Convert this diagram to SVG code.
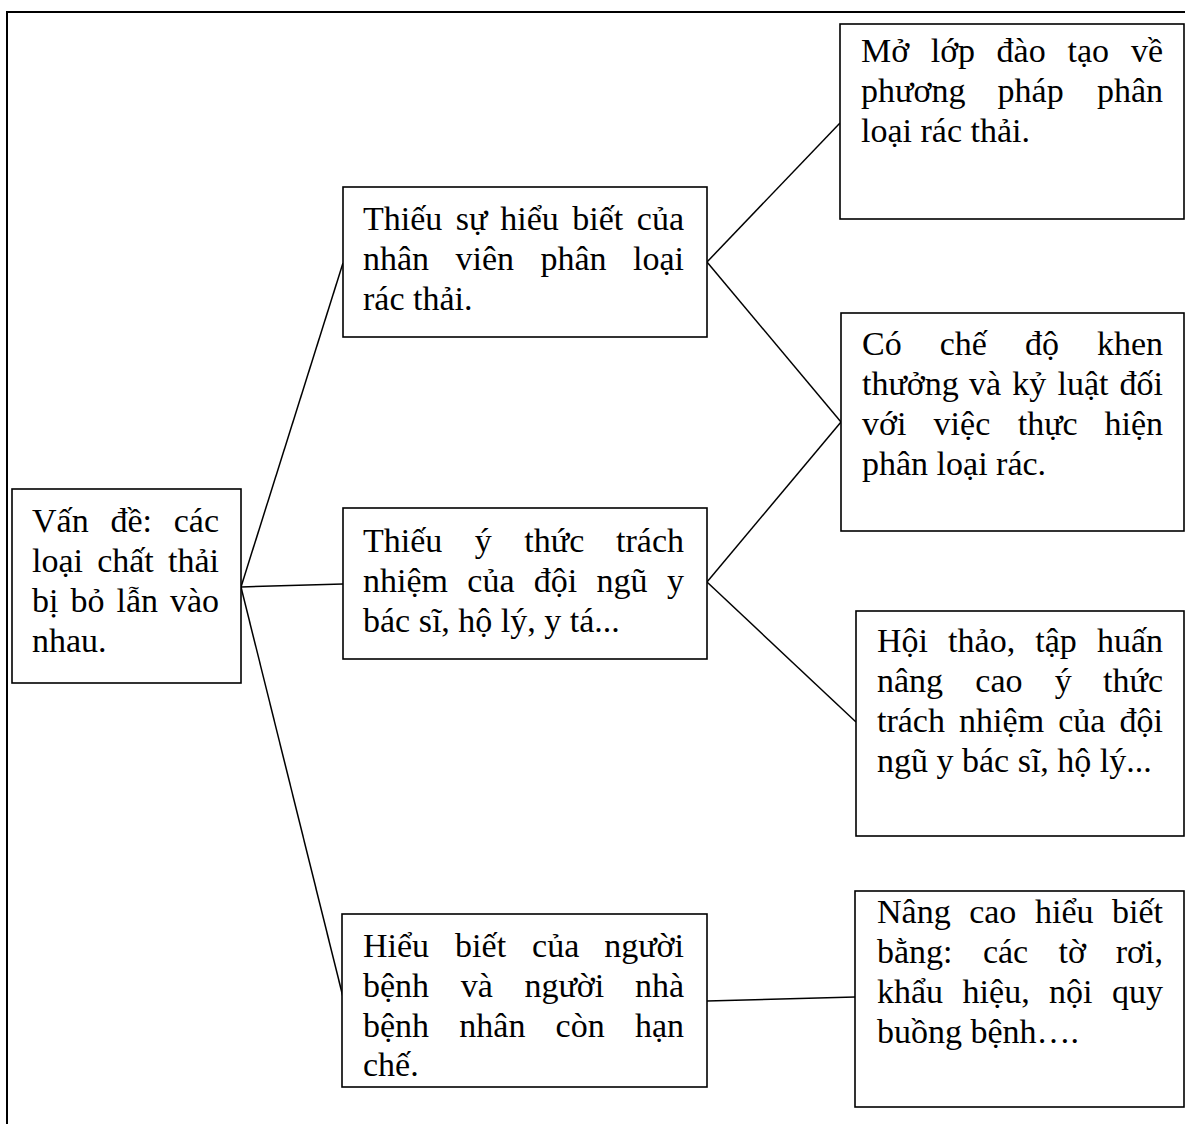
<svg xmlns="http://www.w3.org/2000/svg" width="1185" height="1124" viewBox="0 0 1185 1124">
  <style>
    .box { fill: #ffffff; stroke: #000000; stroke-width: 1.6; }
    .frame { fill: none; stroke: #000000; stroke-width: 2; }
    .link { fill: none; stroke: #000000; stroke-width: 1.5; }
    text { font-family: "Liberation Serif", "Times New Roman", serif; font-size: 34px; fill: #000000; }
    .r { text-anchor: end; }
  </style>

  <rect width="1185" height="1124" fill="#ffffff"/>

  <!-- page frame (top and left edges) -->
  <path class="frame" d="M7,1124 V12 H1185"/>

  <!-- connectors -->
  <g id="connectors">
    <line class="link" x1="241" y1="587" x2="343" y2="263"/>
    <line class="link" x1="241" y1="587" x2="343" y2="584"/>
    <line class="link" x1="241" y1="587" x2="343" y2="997"/>
    <line class="link" x1="707" y1="262" x2="840" y2="123"/>
    <line class="link" x1="707" y1="262" x2="841" y2="422"/>
    <line class="link" x1="707" y1="582" x2="841" y2="422"/>
    <line class="link" x1="707" y1="582" x2="856" y2="722"/>
    <line class="link" x1="707" y1="1001" x2="855" y2="997"/>
  </g>

  <!-- problem -->
  <g id="node-problem">
    <rect class="box" x="12" y="489" width="229" height="194"/>
    <text y="532"><tspan x="32">Vấn</tspan><tspan x="110.4">đề:</tspan><tspan class="r" x="219">các</tspan></text>
    <text y="572"><tspan x="32">loại</tspan><tspan x="97.2">chất</tspan><tspan class="r" x="219">thải</tspan></text>
    <text y="612"><tspan x="32">bị</tspan><tspan x="70.5">bỏ</tspan><tspan x="116.5">lẫn</tspan><tspan class="r" x="219">vào</tspan></text>
    <text x="32" y="652">nhau.</text>
  </g>

  <!-- cause 1 -->
  <g id="node-cause-staff">
    <rect class="box" x="343" y="187" width="364" height="150"/>
    <text y="230"><tspan x="363">Thiếu</tspan><tspan x="455.8">sự</tspan><tspan x="500.2">hiểu</tspan><tspan x="572.2">biết</tspan><tspan class="r" x="684">của</tspan></text>
    <text y="270"><tspan x="363">nhân</tspan><tspan x="455.5">viên</tspan><tspan x="540.4">phân</tspan><tspan class="r" x="684">loại</tspan></text>
    <text x="363" y="310">rác thải.</text>
  </g>

  <!-- cause 2 -->
  <g id="node-cause-responsibility">
    <rect class="box" x="343" y="508" width="364" height="151"/>
    <text y="552"><tspan x="363">Thiếu</tspan><tspan x="474.8">ý</tspan><tspan x="524.3">thức</tspan><tspan class="r" x="684">trách</tspan></text>
    <text y="592"><tspan x="363">nhiệm</tspan><tspan x="467.3">của</tspan><tspan x="533.8">đội</tspan><tspan x="596.6">ngũ</tspan><tspan class="r" x="684">y</tspan></text>
    <text x="363" y="632">bác sĩ, hộ lý, y tá...</text>
  </g>

  <!-- cause 3 -->
  <g id="node-cause-patients">
    <rect class="box" x="342" y="914" width="365" height="173"/>
    <text y="957"><tspan x="363">Hiểu</tspan><tspan x="455.1">biết</tspan><tspan x="532.1">của</tspan><tspan class="r" x="684">người</tspan></text>
    <text y="997"><tspan x="363">bệnh</tspan><tspan x="460.7">và</tspan><tspan x="524.4">người</tspan><tspan class="r" x="684">nhà</tspan></text>
    <text y="1037"><tspan x="363">bệnh</tspan><tspan x="459.3">nhân</tspan><tspan x="555.6">còn</tspan><tspan class="r" x="684">hạn</tspan></text>
    <text x="363" y="1076">chế.</text>
  </g>

  <!-- solution: training -->
  <g id="node-training">
    <rect class="box" x="840" y="24" width="344" height="195"/>
    <text y="62"><tspan x="861">Mở</tspan><tspan x="930.7">lớp</tspan><tspan x="996.6">đào</tspan><tspan x="1067.5">tạo</tspan><tspan class="r" x="1163">về</tspan></text>
    <text y="102"><tspan x="861">phương</tspan><tspan x="997.6">pháp</tspan><tspan class="r" x="1163">phân</tspan></text>
    <text x="861" y="142">loại rác thải.</text>
  </g>

  <!-- solution: reward and discipline -->
  <g id="node-reward">
    <rect class="box" x="841" y="313" width="343" height="218"/>
    <text y="355"><tspan x="862">Có</tspan><tspan x="939.7">chế</tspan><tspan x="1024.9">độ</tspan><tspan class="r" x="1163">khen</tspan></text>
    <text y="395"><tspan x="862">thưởng</tspan><tspan x="969">và</tspan><tspan x="1012.3">kỷ</tspan><tspan x="1057.5">luật</tspan><tspan class="r" x="1163">đối</tspan></text>
    <text y="435"><tspan x="862">với</tspan><tspan x="933.6">việc</tspan><tspan x="1017.7">thực</tspan><tspan class="r" x="1163">hiện</tspan></text>
    <text x="862" y="475">phân loại rác.</text>
  </g>

  <!-- solution: workshops -->
  <g id="node-workshop">
    <rect class="box" x="856" y="611" width="328" height="225"/>
    <text y="652"><tspan x="877">Hội</tspan><tspan x="948.1">thảo,</tspan><tspan x="1035.2">tập</tspan><tspan class="r" x="1163">huấn</tspan></text>
    <text y="692"><tspan x="877">nâng</tspan><tspan x="975.3">cao</tspan><tspan x="1054.7">ý</tspan><tspan class="r" x="1163">thức</tspan></text>
    <text y="732"><tspan x="877">trách</tspan><tspan x="959.1">nhiệm</tspan><tspan x="1058.2">của</tspan><tspan class="r" x="1163">đội</tspan></text>
    <text x="877" y="772">ngũ y bác sĩ, hộ lý...</text>
  </g>

  <!-- solution: awareness materials -->
  <g id="node-awareness">
    <rect class="box" x="855" y="891" width="329" height="216"/>
    <text y="923"><tspan x="877">Nâng</tspan><tspan x="969.2">cao</tspan><tspan x="1035">hiểu</tspan><tspan class="r" x="1163">biết</tspan></text>
    <text y="963"><tspan x="877">bằng:</tspan><tspan x="982.9">các</tspan><tspan x="1058.6">tờ</tspan><tspan class="r" x="1163">rơi,</tspan></text>
    <text y="1003"><tspan x="877">khẩu</tspan><tspan x="962.6">hiệu,</tspan><tspan x="1049.1">nội</tspan><tspan class="r" x="1163">quy</tspan></text>
    <text x="877" y="1043">buồng bệnh….</text>
  </g>
</svg>
